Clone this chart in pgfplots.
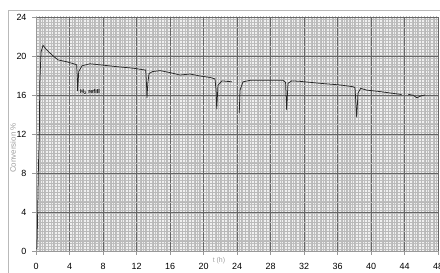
\documentclass[border=0pt]{standalone}
\usepackage{fontspec}
\setmainfont{Liberation Sans}
\usepackage{pgfplots}
\pgfplotsset{compat=1.18}
\usetikzlibrary{patterns}
\begin{document}
\begin{tikzpicture}
\begin{axis}[
  scale only axis,
  width=402bp, height=234bp,
  at={(36bp,22bp)}, anchor=south west,
  xmin=0, xmax=48, ymin=0, ymax=24,
  xtick={0,4,...,48}, ytick={0,4,...,24},
  minor x tick num=7, minor y tick num=3,
  grid=both,
  major grid style={black!60, line width=0.6bp},
  minor grid style={gray!55, line width=0.35bp},
  axis background/.style={fill=gray!12, postaction={pattern=grid, pattern color=gray!50}},
  axis x line*=bottom, axis y line*=left,
  axis line style={gray!80, line width=0.6bp},
  tick align=outside,
  major tick length=4bp, minor tick length=0bp,
  tick style={gray!80, line width=0.6bp},
  /pgf/number format/assume math mode=true,
  tick label style={font=\fontsize{9}{10}\selectfont, black},
  xticklabel style={yshift=-5bp},
  yticklabel style={xshift=-2bp},
  unbounded coords=jump,
  clip mode=individual,
]
\addplot[black!85, line width=0.75bp] coordinates {
(0.10,0.2) (0.15,1.6) (0.30,9) (0.40,12) (0.45,17.2) (0.60,20.4) (0.84,21.1)
(1.2,20.7) (1.67,20.3) (2.2,19.9) (2.63,19.6) (3.7,19.4) (4.3,19.25) (4.85,19.1) (4.92,18.0) (4.97,16.4)
(5.05,17.6) (5.10,18.4) (5.5,19.0) (6.45,19.2) (7.6,19.1) (9.7,18.9) (11.6,18.75) (13.1,18.55)
(13.2,17.0) (13.25,15.7) (13.35,17.2) (13.5,18.2) (13.9,18.4) (14.81,18.5) (16.0,18.3) (17.19,18.05)
(18.39,18.15) (19.58,17.95) (20.78,17.8) (21.37,17.65) (21.50,16.5) (21.58,14.55) (21.73,17.0)
(22.21,17.45) (23.4,17.35)
(nan,nan)
(24.27,14.15) (24.36,16.5) (24.72,17.35) (25.55,17.5) (27.94,17.5) (29.49,17.5) (29.80,17.3)
(29.93,14.45) (30.09,17.2) (30.53,17.45) (31.52,17.4) (33.91,17.2) (36.3,17.03) (37.85,16.85)
(38.09,16.75) (38.29,13.7) (38.45,16.2) (38.77,16.68) (39.49,16.5) (41.07,16.35) (43.46,16.07) (43.66,16.05)
(nan,nan)
(44.45,16.07) (45.05,15.97) (45.46,15.72) (46.05,15.93) (46.45,16.0)
};
\node[anchor=west, font=\fontsize{5.5}{6}\selectfont\bfseries, inner sep=0pt] at (axis cs:5.25,16.35) {H\textsubscript{2} refill};
\end{axis}
\node[rotate=90, text=gray!75, font=\fontsize{8}{9}\selectfont] at (13bp,125bp) {Conversion \%};
\node[text=gray!75, font=\fontsize{7}{8}\selectfont] at (219bp,12bp) {t (h)};
\draw[gray!55, line width=0.7bp] (8bp,0bp) -- (8bp,263bp) -- (440bp,263bp);
\pgfresetboundingbox
\useasboundingbox (0,0) rectangle (440bp,273bp);
\end{tikzpicture}
\end{document}
